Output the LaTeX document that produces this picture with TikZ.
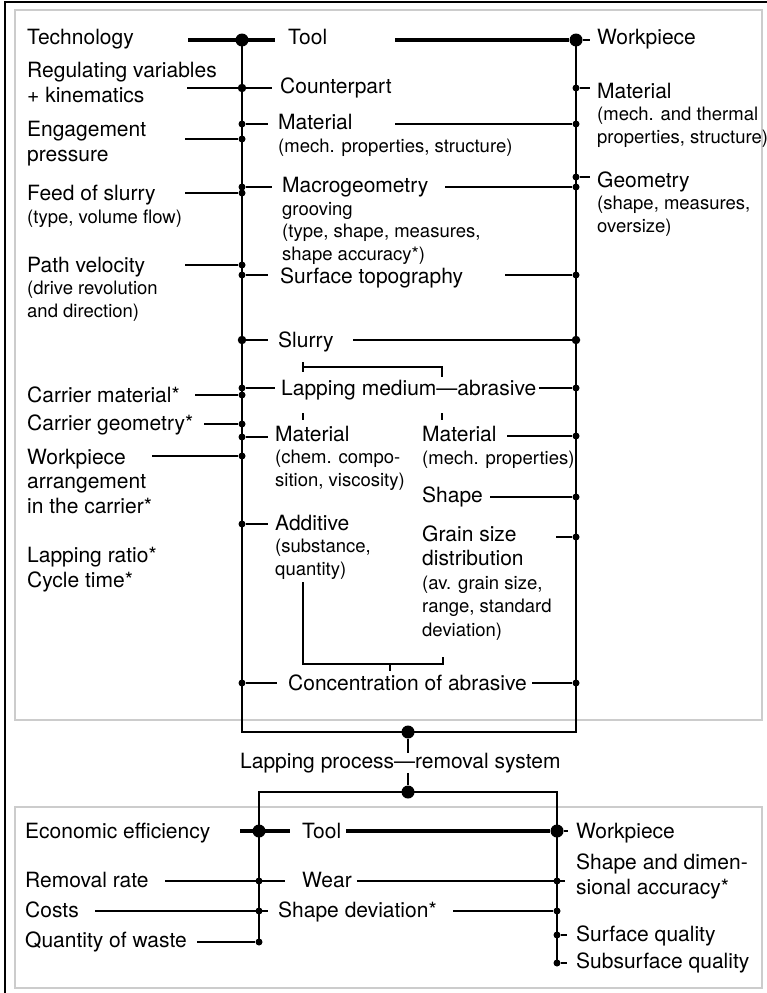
\documentclass[tikz,border=0pt]{standalone}
\usepackage{fontspec}
\setmainfont{TeX Gyre Heros}
\newcommand{\fmain}{\fontsize{21}{22.5}\selectfont}
\newcommand{\fsmall}{\fontsize{18.5}{22.5}\selectfont}
\tikzset{
  txt/.style={anchor=base west, inner sep=0pt, font=\fmain, align=left},
  stem/.style={line width=2.3pt},
  thk/.style={line width=3.2pt},
  thkb/.style={line width=2.6pt},
  thn/.style={line width=1.5pt},
  brk/.style={line width=1.2pt},
  bdot/.style={circle, fill, inner sep=0pt, minimum size=13pt},
  mdot/.style={circle, fill, inner sep=0pt, minimum size=8.5pt},
  sdot/.style={circle, fill, inner sep=0pt, minimum size=7pt},
  graybox/.style={draw=black!20, line width=1.5pt},
  outer/.style={line width=2.6pt},
}
\begin{document}
\begin{tikzpicture}[x=1pt,y=-1pt]
\useasboundingbox (0,0) rectangle (767,993);
%
% marco
\draw[outer] (5,993) -- (5,2) -- (767,2);
\draw[graybox] (15,10) rectangle (762,720);
\draw[graybox] (15,807) rectangle (762,988);
%
% textos, izquierda (base = ultima linea)
\node[txt] (tech) at (27,44) {Technology};
\node[txt] (reg) at (27,102) {Regulating variables\\[2pt]+ kinematics};
\node[txt] (eng) at (27,161) {Engagement\\[2pt]pressure};
\node[txt] (feed) at (27,223) {Feed of slurry\\{\fsmall (type, volume flow)}};
\node[txt] (path) at (27,317) {Path velocity\\{\fsmall (drive revolution}\\{\fsmall and direction)}};
\node[txt] (cmat) at (27,402) {Carrier material*};
\node[txt] (cgeo) at (27,430) {Carrier geometry*};
\node[txt] (warr) at (27,513) {Workpiece\\[2pt]arrangement\\[2pt]in the carrier*};
\node[txt] (ratio) at (27,587) {Lapping ratio*\\[2pt]Cycle time*};
%
% textos, centro
\node[txt] (tool) at (288,44) {Tool};
\node[txt] (cpart) at (280,93) {Counterpart};
\node[txt] (tmat) at (278,152) {Material\\{\fsmall (mech. properties, structure)}};
\node[txt] (macro) at (282,260) {Macrogeometry\\{\fsmall grooving}\\{\fsmall (type, shape, measures,}\\{\fsmall shape accuracy*)}};
\node[txt] (topo) at (280,283) {Surface topography};
\node[txt] (slurry) at (278,347) {Slurry};
\node[txt] (lmed) at (281,395) {Lapping medium—abrasive};
\node[txt] (mchem) at (275,486) {Material\\{\fsmall (chem. compo-}\\{\fsmall sition, viscosity)}};
\node[txt] (mmech) at (422,464) {Material\\{\fsmall (mech. properties)}};
\node[txt] (shape) at (422,502) {Shape};
\node[txt] (add) at (275,575) {Additive\\{\fsmall (substance,}\\{\fsmall quantity)}};
\node[txt] (grain) at (422,636) {Grain size\\[2pt]distribution\\[1pt]{\fsmall (av. grain size,}\\[1pt]{\fsmall range, standard}\\[1pt]{\fsmall deviation)}};
\node[txt] (conc) at (288,690) {Concentration of abrasive};
\node[txt] (lproc) at (240,768) {Lapping process—removal system};
%
% textos, derecha
\node[txt] (wp) at (597,44) {Workpiece};
\node[txt] (wmat) at (597,143) {Material\\{\fsmall (mech. and thermal}\\{\fsmall properties, structure)}};
\node[txt] (wgeo) at (597,232) {Geometry\\{\fsmall (shape, measures,}\\{\fsmall oversize)}};
%
% textos, abajo
\node[txt] (econ) at (25,838) {Economic efficiency};
\node[txt] (tool2) at (302,838) {Tool};
\node[txt] (wp2) at (576,838) {Workpiece};
\node[txt] (accu) at (576,894) {Shape and dimen-\\[2pt]sional accuracy*};
\node[txt] (rrate) at (25,887) {Removal rate};
\node[txt] (wear) at (302,887) {Wear};
\node[txt] (costs) at (25,917) {Costs};
\node[txt] (sdev) at (278,917) {Shape deviation*};
\node[txt] (waste) at (25,947) {Quantity of waste};
\node[txt] (surf) at (576,941) {Surface quality};
\node[txt] (subs) at (576,968) {Subsurface quality};
%
% puntos, eje izquierdo
\node[bdot] (dT) at (242,40) {};
\node[mdot] (dCp) at (242,88) {};
\node[sdot] (dM1) at (242,124) {};
\node[sdot] (dEng) at (242,139) {};
\node[sdot] (dMac) at (242,187) {};
\node[sdot] (dFeed) at (242,193) {};
\node[sdot] (dPath) at (242,265) {};
\node[sdot] (dTopo) at (242,275) {};
\node[mdot] (dSl) at (242,340) {};
\node[sdot] (dLm) at (242,388) {};
\node[sdot] (dCm) at (242,395) {};
\node[sdot] (dCg) at (242,424) {};
\node[sdot] (dMc) at (242,437) {};
\node[sdot] (dWa) at (242,456) {};
\node[sdot] (dAdd) at (242,524) {};
\node[sdot] (dConc) at (242,683) {};
%
% puntos, eje derecho
\node[bdot] (eT) at (576,40) {};
\node[sdot] (eWm) at (576,88) {};
\node[sdot] (eM1) at (576,124) {};
\node[sdot] (eWg) at (576,177) {};
\node[sdot] (eMac) at (576,187) {};
\node[sdot] (eTopo) at (576,275) {};
\node[mdot] (eSl) at (576,340) {};
\node[sdot] (eAbr) at (576,388) {};
\node[sdot] (eMm) at (576,436) {};
\node[sdot] (eSh) at (576,497) {};
\node[sdot] (eGr) at (576,537) {};
\node[sdot] (eConc) at (576,683) {};
%
% puntos, union y abajo
\node[bdot] (jTop) at (408,732) {};
\node[bdot] (jBot) at (408,792) {};
\node[bdot] (fT) at (259,831) {};
\node[sdot] (fRr) at (259,881) {};
\node[sdot] (fCo) at (259,911) {};
\node[sdot] (fQw) at (259,942) {};
\node[bdot] (gT) at (557,831) {};
\node[sdot] (gWe) at (557,881) {};
\node[sdot] (gSd) at (557,911) {};
\node[sdot] (gSq) at (557,935) {};
\node[sdot] (gSs) at (557,963) {};
%
% extremos libres
\coordinate (a1) at (188,40);
\coordinate (a3) at (395,40);
\coordinate (a4) at (187,88);
\coordinate (a6) at (395,124);
\coordinate (a7) at (185,139);
\coordinate (a9) at (445,187);
\coordinate (a10) at (185,193);
\coordinate (a11) at (185,265);
\coordinate (a12) at (505,275);
\coordinate (a13) at (353,340);
\coordinate (a14) at (195,395);
\coordinate (a15) at (204,424);
\coordinate (a16) at (507,436);
\coordinate (a17) at (152,456);
\coordinate (a18) at (556,537);
\coordinate (b1) at (240,831);
\coordinate (b2) at (165,881);
\coordinate (b3) at (95,911);
\coordinate (b4) at (453,911);
\coordinate (b5) at (197,942);
%
% ejes
\draw[stem] (dT.center) |- (eT.center |- jTop.center) -- (eT.center);
\draw[stem] (jTop) -- (lproc.north -| jTop);
\draw[stem] (lproc.south -| jBot) -- (jBot);
\draw[stem] (fT.center) -- (fQw.center);
\draw[stem] (fT.center) |- (jBot.center) -| (gSs.center);
%
% ramas, arriba
\draw[thk, shorten >=13pt] (a1) -- (tool.west |- dT);
\draw[thk] (a3) -- (eT);
\draw[thn, shorten >=7pt] (eT) -- (wp.west |- eT);
\draw[thkb, shorten >=8pt] (a4) -- (cpart.west |- dCp);
\draw[thn, shorten >=7pt] (eWm) -- (wmat.west |- eWm);
\draw[thn, shorten >=10pt] (dM1) -- (tmat.west |- dM1);
\draw[thn] (a6) -- (eM1);
\draw[thn] (a7) -- (dEng);
\draw[thn, shorten >=10pt] (dMac) -- (macro.west |- dMac);
\draw[thn] (a9) -- (eMac);
\draw[thn, shorten >=7pt] (eWg) -- (wgeo.west |- eWg);
\draw[thn] (a10) -- (dFeed);
\draw[thn] (a11) -- (dPath);
\draw[thn, shorten >=12pt] (dTopo) -- (topo.west |- dTopo);
\draw[thn] (a12) -- (eTopo);
\draw[thn, shorten >=10pt] (dSl) -- (slurry.west |- dSl);
\draw[thn] (a13) -- (eSl);
\draw[thn, shorten >=6pt] (dLm) -- (lmed.west |- dLm);
\draw[thn, shorten <=3pt] (lmed.east |- eAbr) -- (eAbr);
\draw[thn] (a14) -- (dCm);
\draw[thn] (a15) -- (dCg);
\draw[thn, shorten >=7pt] (dMc) -- (mchem.west |- dMc);
\draw[thn] (a16) -- (eMm);
\draw[thn] (a17) -- (dWa);
\draw[thn, shorten <=7pt] (shape.east |- eSh) -- (eSh);
\draw[thn, shorten >=7pt] (dAdd) -- (add.west |- dAdd);
\draw[thn] (a18) -- (eGr);
\draw[thn, shorten >=11pt] (dConc) -- (conc.west |- dConc);
\draw[thn, shorten <=5pt] (conc.east |- eConc) -- (eConc);
%
% corchetes
\draw[brk] (303,362) -- (303,372);
\draw[brk] (303,367) -- (442,367) -- (442,377);
\draw[brk] (303,413) -- (303,420);
\draw[brk] (442,413) -- (442,420);
\draw[brk] (303,582) -- (303,664) -- (443,664) -- (443,657);
\draw[brk] (390,664) -- (390,671);
%
% ramas, abajo
\draw[thk, shorten >=12pt] (b1) -- (tool2.west |- fT);
\draw[thk, shorten <=5pt] (tool2.east |- gT) -- (gT);
\draw[thn, shorten >=8pt] (gT) -- (wp2.west |- gT);
\draw[thn, shorten >=17pt] (b2) -- (wear.west |- fRr);
\draw[thn, shorten <=5pt, shorten >=11pt] (wear.east |- gWe) -- (accu.west |- gWe);
\draw[thn, shorten >=10pt] (b3) -- (sdev.west |- fCo);
\draw[thn] (b4) -- (gSd);
\draw[thn] (b5) -- (fQw);
\draw[thn, shorten >=9pt] (gSq) -- (surf.west |- gSq);
\draw[thn, shorten >=9pt] (gSs) -- (subs.west |- gSs);
%
\end{tikzpicture}
\end{document}
